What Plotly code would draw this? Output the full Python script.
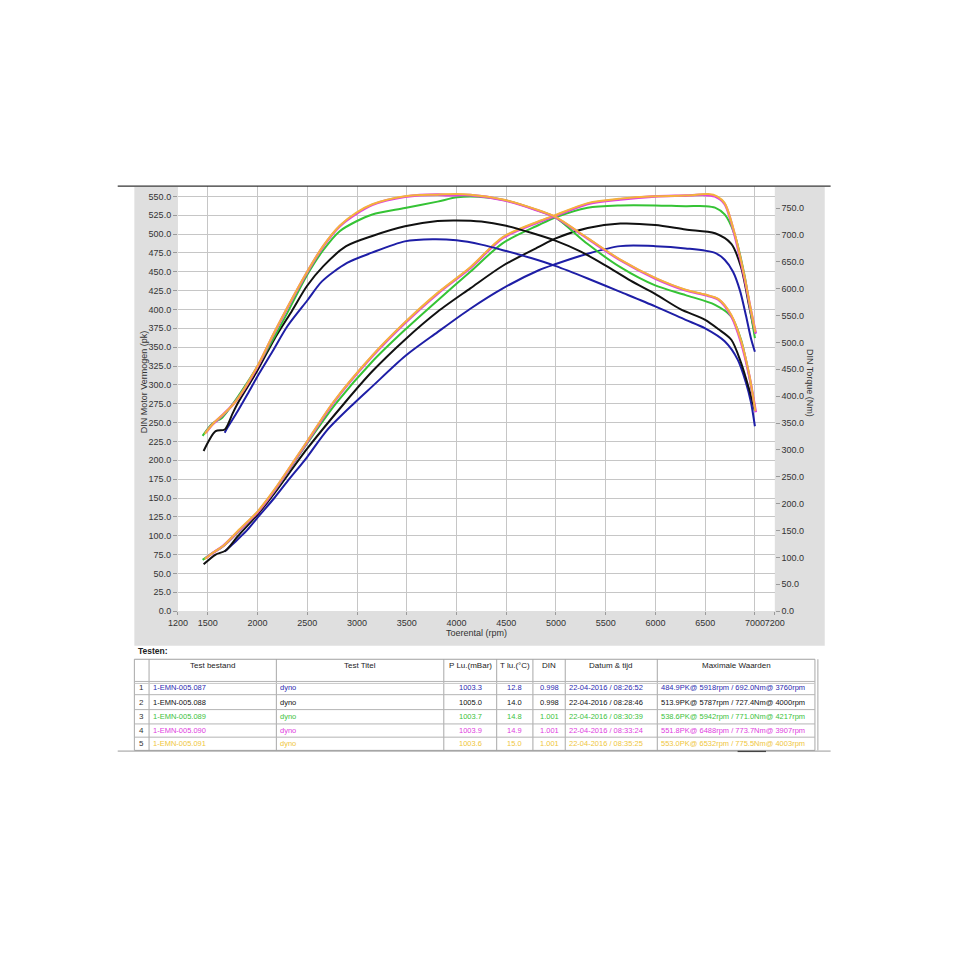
import plotly.graph_objects as go

# ---------------- data ----------------
blue_torque_rpm = [1670, 1700, 1800, 1900, 2000, 2150, 2300, 2500, 2650, 2900, 3150, 3480, 3760, 4000, 4250, 4500, 4750, 5000, 5319, 5647, 5998, 6303, 6500, 6696, 6827, 6910, 6960, 7000]
blue_torque = [332, 342, 372, 404, 437, 483, 530, 578, 614, 648, 667, 688, 692, 690, 682, 670, 657, 642, 619, 594, 567, 542, 526, 502, 468, 425, 389, 344]
blue_power_rpm = [1670, 1800, 1900, 2000, 2169, 2300, 2497, 2700, 2974, 3154, 3482, 3810, 4139, 4466, 4827, 4991, 5319, 5647, 5998, 6303, 6599, 6696, 6780, 6850, 6910, 6960, 7000]
blue_power = [79, 95, 108, 124, 150, 172, 204, 240, 276, 298, 338, 370, 401, 428, 452, 460, 474, 484, 484, 481, 475, 466, 450, 425, 392, 362, 344]

black_torque_rpm = [1458, 1579, 1671, 1750, 1808, 2000, 2169, 2350, 2497, 2662, 2891, 3154, 3482, 3810, 4000, 4250, 4500, 4750, 5000, 5250, 5500, 5750, 6000, 6250, 6500, 6631, 6763, 6861, 6943, 7000]
black_torque = [298, 335, 338, 368, 389, 448, 506, 560, 605, 642, 679, 698, 716, 726, 727, 725, 717, 704, 689, 669, 643, 615, 590, 562, 542, 525, 505, 462, 412, 373]
black_power_rpm = [1458, 1579, 1677, 1800, 2000, 2169, 2497, 2875, 3154, 3482, 3810, 4139, 4466, 4827, 4991, 5319, 5647, 5998, 6303, 6599, 6763, 6861, 6943, 7000]
black_power = [62, 75, 80, 99, 128, 156, 215, 276, 318, 360, 397, 428, 458, 483, 494, 508, 514, 512, 506, 501, 487, 456, 404, 368]

green_torque_rpm = [1448, 1546, 1645, 1750, 1842, 2005, 2169, 2300, 2497, 2662, 2826, 2990, 3154, 3482, 3810, 4007, 4217, 4500, 4827, 4991, 5319, 5647, 5998, 6303, 6599, 6763, 6861, 6943, 7000]
green_torque = [326, 349, 360, 385, 410, 457, 510, 555, 625, 672, 707, 725, 738, 750, 762, 770, 771, 764, 745, 733, 683, 640, 606, 588, 570, 548, 505, 437, 378]
green_power_rpm = [1448, 1546, 1645, 1800, 2000, 2169, 2497, 2793, 3154, 3482, 3810, 4139, 4466, 4827, 4991, 5319, 5647, 5998, 6303, 6500, 6599, 6696, 6794, 6893, 6959, 7000]
green_power = [68, 77, 85, 104, 131, 159, 222, 276, 331, 373, 412, 450, 488, 512, 522, 535, 538, 538, 537, 537, 535, 526, 500, 447, 395, 362]

magenta_torque_rpm = [1480, 1550, 1650, 1776, 2000, 2169, 2497, 2662, 2826, 2990, 3154, 3482, 3810, 3907, 4139, 4466, 4794, 4991, 5319, 5647, 5998, 6303, 6500, 6631, 6763, 6861, 6943, 7009]
magenta_torque = [332, 348, 365, 389, 455, 518, 630, 679, 716, 739, 756, 771, 775, 774, 774, 765, 747, 733, 693, 653, 619, 597, 588, 580, 549, 500, 438, 370]
magenta_power_rpm = [1480, 1550, 1650, 1800, 2000, 2169, 2497, 2761, 3154, 3482, 3810, 4139, 4466, 4827, 4991, 5319, 5647, 5998, 6303, 6488, 6598, 6696, 6794, 6893, 6959, 7009]
magenta_power = [70, 77, 86, 105, 131, 160, 224, 276, 338, 382, 421, 455, 495, 516, 524, 540, 546, 550, 551, 552, 550, 540, 500, 443, 399, 368]

yellow_torque_rpm = [1470, 1560, 1660, 1780, 2000, 2169, 2497, 2662, 2826, 2990, 3154, 3482, 3810, 4003, 4139, 4466, 4794, 4991, 5319, 5647, 5998, 6303, 6500, 6631, 6763, 6861, 6943, 7005]
yellow_torque = [330, 350, 367, 390, 456, 519, 631, 680, 717, 741, 757, 772, 775, 776, 775, 766, 748, 734, 694, 654, 620, 598, 589, 581, 551, 503, 440, 372]
yellow_power_rpm = [1470, 1560, 1660, 1800, 2000, 2169, 2497, 2761, 3154, 3482, 3810, 4139, 4466, 4827, 4991, 5319, 5647, 5998, 6303, 6532, 6620, 6696, 6794, 6893, 6959, 7005]
yellow_power = [69, 78, 87, 106, 132, 161, 225, 277, 339, 383, 422, 456, 496, 517, 525, 541, 547, 550, 551, 553, 550, 541, 502, 445, 400, 370]

x_tick_vals = [1200, 1500, 2000, 2500, 3000, 3500, 4000, 4500, 5000, 5500, 6000, 6500, 7000, 7200]
x_tick_text = ["1200", "1500", "2000", "2500", "3000", "3500", "4000", "4500", "5000", "5500", "6000", "6500", "7000", "7200"]

table_headers = ["Test bestand", "Test Titel", "P Lu.(mBar)", "T lu.(°C)", "DIN", "Datum & tijd", "Maximale Waarden"]
test_files = ["1-EMN-005.087", "1-EMN-005.088", "1-EMN-005.089", "1-EMN-005.090", "1-EMN-005.091"]
test_titles = ["dyno", "dyno", "dyno", "dyno", "dyno"]
p_lu = ["1003.3", "1005.0", "1003.7", "1003.9", "1003.6"]
t_lu = ["12.8", "14.0", "14.8", "14.9", "15.0"]
din = ["0.998", "0.998", "1.001", "1.001", "1.001"]
datum = ["22-04-2016 / 08:26:52", "22-04-2016 / 08:28:46", "22-04-2016 / 08:30:39",
         "22-04-2016 / 08:33:24", "22-04-2016 / 08:35:25"]
max_waarden = ["484.9PK@ 5918rpm / 692.0Nm@ 3760rpm", "513.9PK@ 5787rpm / 727.4Nm@ 4000rpm",
               "538.6PK@ 5942rpm / 771.0Nm@ 4217rpm", "551.8PK@ 6488rpm / 773.7Nm@ 3907rpm",
               "553.0PK@ 6532rpm / 775.5Nm@ 4003rpm"]

line_colors = ["#1e1ea6", "#111111", "#35c335", "#e040e0", "#f4b23c"]
text_colors = ["#2a2ab0", "#111111", "#3cc23c", "#e040e0", "#efc63c"]

# ---------------- figure ----------------
W = H = 964
FONT = "Arial, Liberation Sans, sans-serif"


def X(px):
    return px / W


def Y(py):
    return 1 - py / H


PL, PR, PT, PB = 171.5, 781.0, 187.0, 614.3

fig = go.Figure()

series = [
    (blue_power_rpm, blue_power, blue_torque_rpm, blue_torque),
    (black_power_rpm, black_power, black_torque_rpm, black_torque),
    (green_power_rpm, green_power, green_torque_rpm, green_torque),
    (magenta_power_rpm, magenta_power, magenta_torque_rpm, magenta_torque),
    (yellow_power_rpm, yellow_power, yellow_torque_rpm, yellow_torque),
]

for i, (pr, pw, tr, tq) in enumerate(series):
    wdt = 2.6 if i == 3 else 2.0
    fig.add_trace(go.Scatter(x=pr, y=pw, mode="lines", yaxis="y",
                             line=dict(color=line_colors[i], width=wdt, shape="spline", smoothing=0.8),
                             showlegend=False, hoverinfo="skip"))
for i, (pr, pw, tr, tq) in enumerate(series):
    wdt = 2.6 if i == 3 else 2.0
    fig.add_trace(go.Scatter(x=tr, y=tq, mode="lines", yaxis="y2",
                             line=dict(color=line_colors[i], width=wdt, shape="spline", smoothing=0.8),
                             showlegend=False, hoverinfo="skip"))

shapes = []
shapes.append(dict(type="rect", xref="paper", yref="paper", x0=X(127), x1=X(832), y0=Y(649), y1=Y(188),
                   fillcolor="#dfdfdf", line=dict(width=0), layer="below"))
shapes.append(dict(type="rect", xref="paper", yref="paper", x0=X(PL), x1=X(PR), y0=Y(PB), y1=Y(PT),
                   fillcolor="white", line=dict(width=0), layer="below"))
shapes.append(dict(type="line", xref="paper", yref="paper", x0=X(110), x1=X(838), y0=Y(187), y1=Y(187),
                   line=dict(color="#333333", width=1.3)))
shapes.append(dict(type="line", xref="paper", yref="paper", x0=X(110), x1=X(838), y0=Y(755), y1=Y(755),
                   line=dict(color="#9a9a9a", width=1)))
shapes.append(dict(type="line", xref="paper", yref="paper", x0=X(743), x1=X(772), y0=Y(755), y1=Y(755),
                   line=dict(color="#444444", width=2)))

col_x = [127, 142, 272, 443, 497, 534, 567, 661, 822]
row_y = [662.7, 685, 698.3, 713.3, 727.7, 741, 754.3]
for cx in col_x:
    shapes.append(dict(type="line", xref="paper", yref="paper", x0=X(cx), x1=X(cx), y0=Y(row_y[-1]), y1=Y(row_y[0]),
                       line=dict(color="#a8a8a8", width=1)))
shapes.append(dict(type="line", xref="paper", yref="paper", x0=X(825), x1=X(825), y0=Y(row_y[-1]), y1=Y(row_y[0]),
                   line=dict(color="#a8a8a8", width=1)))
for j, ry in enumerate(row_y):
    shapes.append(dict(type="line", xref="paper", yref="paper", x0=X(127), x1=X(822), y0=Y(ry), y1=Y(ry),
                       line=dict(color="#b4b4b4" if 0 < j < len(row_y) - 1 else "#a0a0a0", width=1)))
shapes.append(dict(type="line", xref="paper", yref="paper", x0=X(127), x1=X(822), y0=Y(687), y1=Y(687),
                   line=dict(color="#c8c8c8", width=1)))

annotations = []
annotations.append(dict(text="DIN Motor Vermogen (pk)", xref="paper", yref="paper", x=X(137), y=Y(384),
                        showarrow=False, textangle=-90, font=dict(family=FONT, size=9, color="#333333"),
                        xanchor="center", yanchor="middle"))
annotations.append(dict(text="DIN Torque (Nm)", xref="paper", yref="paper", x=X(817), y=Y(385),
                        showarrow=False, textangle=90, font=dict(family=FONT, size=9, color="#333333"),
                        xanchor="center", yanchor="middle"))
annotations.append(dict(text="Toerental (rpm)", xref="paper", yref="paper", x=X(476), y=Y(636.5),
                        showarrow=False, font=dict(family=FONT, size=9, color="#333333"),
                        xanchor="center", yanchor="middle"))

annotations.append(dict(text="<b>Testen:</b>", xref="paper", yref="paper", x=X(129), y=Y(654),
                        showarrow=False, font=dict(family=FONT, size=8.5, color="#222222"),
                        xanchor="left", yanchor="middle"))
head_centers = [207, 357, 470, 515.5, 550.5, 614, 741.5]
for hc, ht in zip(head_centers, table_headers):
    annotations.append(dict(text=ht, xref="paper", yref="paper", x=X(hc), y=Y(669),
                            showarrow=False, font=dict(family=FONT, size=8, color="#222222"),
                            xanchor="center", yanchor="middle"))
row_centers = [691.5, 706, 720.5, 734.5, 747.5]
for r in range(5):
    yc = Y(row_centers[r])
    c = text_colors[r]
    cells = [
        (str(r + 1), 134.5, "center", "#333333", 8),
        (test_files[r], 144, "left", c, 7.5),
        (test_titles[r], 274, "left", c, 7.5),
        (p_lu[r], 470, "center", c, 7.5),
        (t_lu[r], 515.5, "center", c, 7.5),
        (din[r], 550.5, "center", c, 7.5),
        (datum[r], 569, "left", c, 7.5),
        (max_waarden[r], 663, "left", c, 7.5),
    ]
    for txt, cx, anc, col, sz in cells:
        annotations.append(dict(text=txt, xref="paper", yref="paper", x=X(cx), y=yc,
                                showarrow=False, font=dict(family=FONT, size=sz, color=col),
                                xanchor=anc, yanchor="middle"))

fig.update_layout(
    width=W, height=H,
    margin=dict(l=0, r=0, t=0, b=0),
    paper_bgcolor="white", plot_bgcolor="white",
    showlegend=False, hovermode=False,
    xaxis=dict(domain=[X(PL), X(PR)], range=[1200, 7200], tickvals=x_tick_vals, ticktext=x_tick_text,
               tickangle=0, showgrid=True, gridcolor="#c6c6c6", gridwidth=1, zeroline=False, showline=False,
               ticks="outside", ticklen=3, tickcolor="#9a9a9a",
               tickfont=dict(family=FONT, size=9, color="#333333"), fixedrange=True),
    yaxis=dict(domain=[Y(PB), Y(PT)], range=[0, 563.7], tick0=0, dtick=25, tickformat=".1f",
               showgrid=True, gridcolor="#c6c6c6", gridwidth=1, zeroline=False, showline=False,
               ticks="outside", ticklen=4, tickcolor="#9a9a9a",
               tickfont=dict(family=FONT, size=9, color="#333333"), fixedrange=True),
    yaxis2=dict(overlaying="y", side="right", anchor="x", range=[0, 791], tick0=0, dtick=50, tickformat=".1f",
                showgrid=False, zeroline=False, showline=False,
                ticks="outside", ticklen=4, tickcolor="#9a9a9a",
                tickfont=dict(family=FONT, size=9, color="#333333"), fixedrange=True),
    shapes=shapes,
    annotations=annotations,
)

fig.write_html(
    "out.html",
    config={"displayModeBar": False, "staticPlot": True},
    post_script="document.documentElement.style.margin='0';document.body.style.margin='0';"
                "document.documentElement.style.overflow='hidden';document.body.style.overflow='hidden';",
)
